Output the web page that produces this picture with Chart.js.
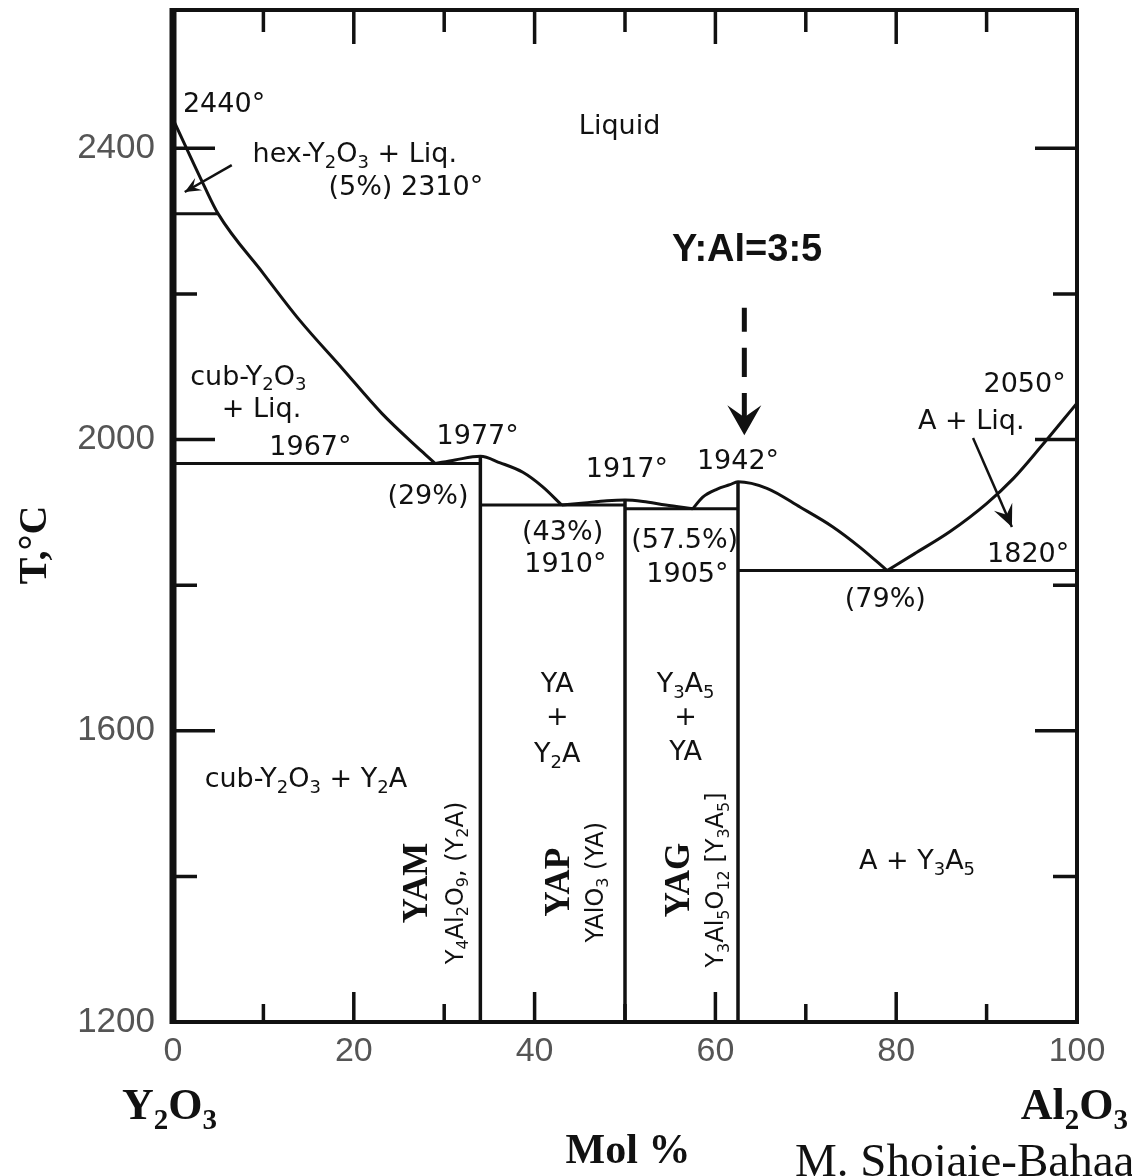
<!DOCTYPE html>
<html>
<head>
<meta charset="utf-8">
<title>Y2O3 - Al2O3</title>
<script src="https://cdn.jsdelivr.net/npm/chart.js@4.4.1/dist/chart.umd.min.js"></script>
<style>
  html, body { margin: 0; padding: 0; background: #fff; }
</style>
</head>
<body>
<canvas id="phase" width="1132" height="1176"></canvas>
<script>
// Диаграмма состояния Y2O3 - Al2O3 (мол. % Al2O3, T в °C)

const X_TICKS = [0, 20, 40, 60, 80, 100];
const X_MINOR = [10, 30, 50, 70, 90];
const Y_TICKS = [1200, 1600, 2000, 2400];
const Y_MINOR = [1400, 1800, 2200];
const T_MIN = 1200;
const T_MAX = 2590;

// ветви ликвидуса
const LIQ_Y2O3_X = [0, 3.5, 5, 10, 14, 18.7, 23.1, 27.5, 29];
const LIQ_Y2O3_T = [2440, 2347, 2310, 2228, 2164, 2098, 2036, 1984, 1967];
const LIQ_YAM_X = [29, 31.2, 34, 36.2, 38.7, 40.9, 43];
const LIQ_YAM_T = [1967, 1972, 1977, 1968, 1955, 1935, 1910];
const LIQ_YAP_X = [43, 45.5, 48, 50, 52, 54.5, 57.5];
const LIQ_YAP_T = [1910, 1913, 1916, 1917, 1915, 1910, 1905];
const LIQ_YAG_X = [57.5, 58.6, 60.2, 61.6, 62.5, 65.7, 69.4, 73, 76, 79];
const LIQ_YAG_T = [1905, 1921, 1932, 1938, 1942, 1933, 1907, 1880, 1852, 1820];
const LIQ_AL2O3_X = [79, 82, 86, 90, 93, 96, 100];
const LIQ_AL2O3_T = [1820, 1843, 1874, 1912, 1947, 1990, 2050];

// горизонтали: превращение hex/cub и эвтектики
const ISO_T = [2310, 1967, 1910, 1905, 1820];
const ISO_FROM = [0, 0, 34, 50, 62.5];
const ISO_TO = [5, 34, 50, 62.5, 100];

// соединения YAM, YAP, YAG
const COMPOUND_NAMES = ['YAM', 'YAP', 'YAG'];
const COMPOUND_FORMULAS = ['Y_4Al_2O_9, (Y_2A)', 'YAlO_3 (YA)', 'Y_3Al_5O_{12} [Y_3A_5]'];
const COMPOUND_X = [34, 50, 62.5];
const COMPOUND_MELT = [1977, 1917, 1942];

const INK = '#111';
const LABEL_FONT = 'DejaVu Sans';
const SERIF = 'Liberation Serif';

function pts(xs, ts) {
    return xs.map((x, i) => ({ x: x, y: ts[i] }));
}

function curve(xs, ts) {
    return {
        data: pts(xs, ts),
        showLine: true,
        borderColor: INK,
        borderWidth: 3,
        pointRadius: 0,
        cubicInterpolationMode: 'monotone'
    };
}

function straight(points, width) {
    return {
        data: points,
        showLine: true,
        borderColor: INK,
        borderWidth: width || 3,
        pointRadius: 0,
        tension: 0
    };
}

const datasets = [
    curve(LIQ_Y2O3_X, LIQ_Y2O3_T),
    curve(LIQ_YAM_X, LIQ_YAM_T),
    curve(LIQ_YAP_X, LIQ_YAP_T),
    curve(LIQ_YAG_X, LIQ_YAG_T),
    curve(LIQ_AL2O3_X, LIQ_AL2O3_T)
];
ISO_T.forEach((t, i) => {
    datasets.push(straight([{ x: ISO_FROM[i], y: t }, { x: ISO_TO[i], y: t }]));
});
COMPOUND_X.forEach((x, i) => {
    datasets.push(straight([{ x: x, y: T_MIN }, { x: x, y: COMPOUND_MELT[i] }], 3.5));
});

// Текст с нижними индексами: "Y_2O_3", "O_{12}"
function richParts(str) {
    const parts = [];
    let buf = '';
    let i = 0;
    while (i < str.length) {
        if (str[i] === '_') {
            if (buf) { parts.push({ t: buf, sub: false }); buf = ''; }
            let s;
            if (str[i + 1] === '{') {
                const j = str.indexOf('}', i);
                s = str.slice(i + 2, j);
                i = j + 1;
            } else {
                s = str[i + 1];
                i += 2;
            }
            parts.push({ t: s, sub: true });
        } else {
            buf += str[i];
            i++;
        }
    }
    if (buf) parts.push({ t: buf, sub: false });
    return parts;
}

function drawRich(ctx, str, x, y, size, family, weight, align) {
    const parts = richParts(str);
    const main = `${weight || 'normal'} ${size}px "${family}"`;
    const small = `${weight || 'normal'} ${Math.round(size * 0.66)}px "${family}"`;
    let w = 0;
    parts.forEach(p => {
        ctx.font = p.sub ? small : main;
        p.w = ctx.measureText(p.t).width;
        w += p.w;
    });
    let cx = align === 'left' ? x : (align === 'right' ? x - w : x - w / 2);
    ctx.textAlign = 'left';
    ctx.textBaseline = 'middle';
    parts.forEach(p => {
        ctx.font = p.sub ? small : main;
        ctx.fillText(p.t, cx, p.sub ? y + size * 0.3 : y);
        cx += p.w;
    });
}

function arrowHead(ctx, x0, y0, x1, y1, len, half) {
    const a = Math.atan2(y1 - y0, x1 - x0);
    ctx.beginPath();
    ctx.moveTo(x1, y1);
    ctx.lineTo(x1 - len * Math.cos(a) + half * Math.sin(a), y1 - len * Math.sin(a) - half * Math.cos(a));
    ctx.lineTo(x1 - len * 0.6 * Math.cos(a), y1 - len * 0.6 * Math.sin(a));
    ctx.lineTo(x1 - len * Math.cos(a) - half * Math.sin(a), y1 - len * Math.sin(a) + half * Math.cos(a));
    ctx.closePath();
    ctx.fill();
}

// надписи полей диаграммы: [состав, T, текст, выравнивание]
const FIELD_LABELS = [
    [1.1, 2460, `${LIQ_Y2O3_T[0]}°`, 'left'],
    [8.8, 2391, 'hex-Y_2O_3 + Liq.', 'left'],
    [17.2, 2345, `(${LIQ_Y2O3_X[2]}%) ${ISO_T[0]}°`, 'left'],
    [49.4, 2429, 'Liquid', 'center'],
    [1.9, 2085, 'cub-Y_2O_3', 'left'],
    [5.4, 2040, '+ Liq.', 'left'],
    [15.2, 1988, `${ISO_T[1]}°`, 'center'],
    [33.7, 2003, `${COMPOUND_MELT[0]}°`, 'center'],
    [28.2, 1921, `(${LIQ_Y2O3_X[LIQ_Y2O3_X.length - 1]}%)`, 'center'],
    [50.2, 1958, `${COMPOUND_MELT[1]}°`, 'center'],
    [62.5, 1969, `${COMPOUND_MELT[2]}°`, 'center'],
    [43.1, 1872, `(${LIQ_YAM_X[LIQ_YAM_X.length - 1]}%)`, 'center'],
    [43.4, 1828, `${ISO_T[2]}°`, 'center'],
    [56.6, 1861, `(${LIQ_YAP_X[LIQ_YAP_X.length - 1]}%)`, 'center'],
    [56.9, 1814, `${ISO_T[3]}°`, 'center'],
    [94.2, 2075, `${LIQ_AL2O3_T[LIQ_AL2O3_T.length - 1]}°`, 'center'],
    [88.3, 2024, 'A + Liq.', 'center'],
    [94.6, 1841, `${ISO_T[4]}°`, 'center'],
    [78.8, 1780, `(${LIQ_YAG_X[LIQ_YAG_X.length - 1]}%)`, 'center'],
    [42.5, 1663, 'YA', 'center'],
    [42.5, 1617, '+', 'center'],
    [42.5, 1567, 'Y_2A', 'center'],
    [56.7, 1663, 'Y_3A_5', 'center'],
    [56.7, 1617, '+', 'center'],
    [56.7, 1570, 'YA', 'center'],
    [3.5, 1532, 'cub-Y_2O_3 + Y_2A', 'left'],
    [82.3, 1420, 'A + Y_3A_5', 'center']
];

// положение вертикальных подписей соединений (состав названия, состав формулы, T)
const COMPOUND_LABEL_POS = [[27.1, 31.4, 1391], [42.8, 46.9, 1392], [56.1, 60.2, 1395]];

const diagramDecor = {
    id: 'diagramDecor',
    afterDatasetsDraw(chart) {
        const ctx = chart.ctx;
        const xs = chart.scales.x;
        const ys = chart.scales.y;
        const X = v => xs.getPixelForValue(v);
        const Y = v => ys.getPixelForValue(v);
        const a = chart.chartArea;

        ctx.save();
        ctx.strokeStyle = INK;
        ctx.fillStyle = INK;
        ctx.lineCap = 'butt';

        // рамка
        ctx.lineWidth = 4;
        ctx.strokeRect(a.left, a.top, a.right - a.left, a.bottom - a.top);
        ctx.lineWidth = 7;
        ctx.beginPath();
        ctx.moveTo(a.left, a.top - 2);
        ctx.lineTo(a.left, a.bottom + 2);
        ctx.stroke();

        // засечки внутрь
        ctx.lineWidth = 3.5;
        const hTick = (v, len) => {
            ctx.beginPath();
            ctx.moveTo(a.left, Y(v)); ctx.lineTo(a.left + len, Y(v));
            ctx.moveTo(a.right, Y(v)); ctx.lineTo(a.right - len, Y(v));
            ctx.stroke();
        };
        const vTick = (v, lenTop, lenBottom) => {
            ctx.beginPath();
            ctx.moveTo(X(v), a.top); ctx.lineTo(X(v), a.top + lenTop);
            ctx.moveTo(X(v), a.bottom); ctx.lineTo(X(v), a.bottom - lenBottom);
            ctx.stroke();
        };
        Y_TICKS.slice(1).forEach(v => hTick(v, 42));
        Y_MINOR.forEach(v => hTick(v, 24));
        X_TICKS.slice(1, -1).forEach(v => vTick(v, 34, 30));
        X_MINOR.forEach(v => vTick(v, 22, 18));

        // надписи полей
        ctx.fillStyle = INK;
        FIELD_LABELS.forEach(l => {
            drawRich(ctx, l[2], X(l[0]), Y(l[1]), 27, LABEL_FONT, 'normal', l[3]);
        });

        // соединения (вертикальные подписи)
        COMPOUND_NAMES.forEach((name, i) => {
            const p = COMPOUND_LABEL_POS[i];
            ctx.save();
            ctx.translate(X(p[0]), Y(p[2]));
            ctx.rotate(-Math.PI / 2);
            drawRich(ctx, name, 0, 0, 35, SERIF, 'bold', 'center');
            ctx.restore();
            ctx.save();
            ctx.translate(X(p[1]), Y(p[2]));
            ctx.rotate(-Math.PI / 2);
            drawRich(ctx, COMPOUND_FORMULAS[i], 0, 0, 24, LABEL_FONT, 'normal', 'center');
            ctx.restore();
        });

        // Y:Al = 3:5
        ctx.font = 'bold 38px "Liberation Sans"';
        ctx.textAlign = 'center';
        ctx.textBaseline = 'middle';
        ctx.fillText('Y:Al=3:5', X(63.5), Y(2260));

        const ax = X(63.2);
        ctx.lineWidth = 5;
        ctx.beginPath();
        ctx.moveTo(ax, Y(2181)); ctx.lineTo(ax, Y(2148));
        ctx.moveTo(ax, Y(2126)); ctx.lineTo(ax, Y(2086));
        ctx.moveTo(ax, Y(2064)); ctx.lineTo(ax, Y(2025));
        ctx.stroke();
        arrowHead(ctx, ax, Y(2064), ax, Y(2006), 30, 17);

        // стрелки-выноски
        ctx.lineWidth = 2.5;
        let x0 = X(6.5), y0 = Y(2377), x1 = X(1.3), y1 = Y(2340);
        ctx.beginPath(); ctx.moveTo(x0, y0); ctx.lineTo(x1, y1); ctx.stroke();
        arrowHead(ctx, x0, y0, x1, y1, 16, 7);

        x0 = X(88.5); y0 = Y(2002); x1 = X(92.8); y1 = Y(1880);
        ctx.beginPath(); ctx.moveTo(x0, y0); ctx.lineTo(x1, y1); ctx.stroke();
        arrowHead(ctx, x0, y0, x1, y1, 22, 10);

        // подписи осей
        drawRich(ctx, 'Y_2O_3', 122, 1108, 44, SERIF, 'bold', 'left');
        drawRich(ctx, 'Al_2O_3', 1128, 1108, 44, SERIF, 'bold', 'right');
        ctx.font = 'bold 42px "Liberation Serif"';
        ctx.textAlign = 'center';
        ctx.textBaseline = 'middle';
        ctx.fillText('Mol %', 628, 1152);
        ctx.font = '47px "Liberation Serif"';
        ctx.textAlign = 'left';
        ctx.textBaseline = 'alphabetic';
        ctx.fillText('M. Shojaie-Bahaabad', 795, 1176);

        ctx.save();
        ctx.translate(36, 545);
        ctx.rotate(-Math.PI / 2);
        ctx.font = 'bold 40px "Liberation Serif"';
        ctx.textAlign = 'center';
        ctx.textBaseline = 'middle';
        ctx.fillText('T,°C', 0, 0);
        ctx.restore();

        ctx.restore();
    }
};

const chart = new Chart(document.getElementById('phase').getContext('2d'), {
    type: 'scatter',
    data: { datasets: datasets },
    options: {
        responsive: false,
        animation: false,
        layout: { padding: { left: 0, right: 55, top: 10, bottom: 94 } },
        plugins: {
            legend: { display: false },
            tooltip: { enabled: false }
        },
        scales: {
            x: {
                type: 'linear',
                min: 0,
                max: 100,
                afterBuildTicks: s => { s.ticks = X_TICKS.map(v => ({ value: v })); },
                afterFit: s => { s.height = 60; s.paddingLeft = 0; s.paddingRight = 0; },
                grid: { display: false, drawTicks: false },
                border: { display: false },
                ticks: {
                    font: { family: 'Liberation Sans', size: 34 },
                    color: '#555',
                    padding: 9,
                    maxRotation: 0,
                    callback: v => String(v)
                }
            },
            y: {
                type: 'linear',
                min: T_MIN,
                max: T_MAX,
                afterBuildTicks: s => { s.ticks = Y_TICKS.map(v => ({ value: v })); },
                afterFit: s => { s.width = 173; s.paddingTop = 0; s.paddingBottom = 0; },
                grid: { display: false, drawTicks: false },
                border: { display: false },
                ticks: {
                    font: { family: 'Liberation Sans', size: 35 },
                    color: '#555',
                    padding: 18,
                    callback: v => String(v)
                }
            }
        }
    },
    plugins: [diagramDecor]
});
</script>
</body>
</html>
